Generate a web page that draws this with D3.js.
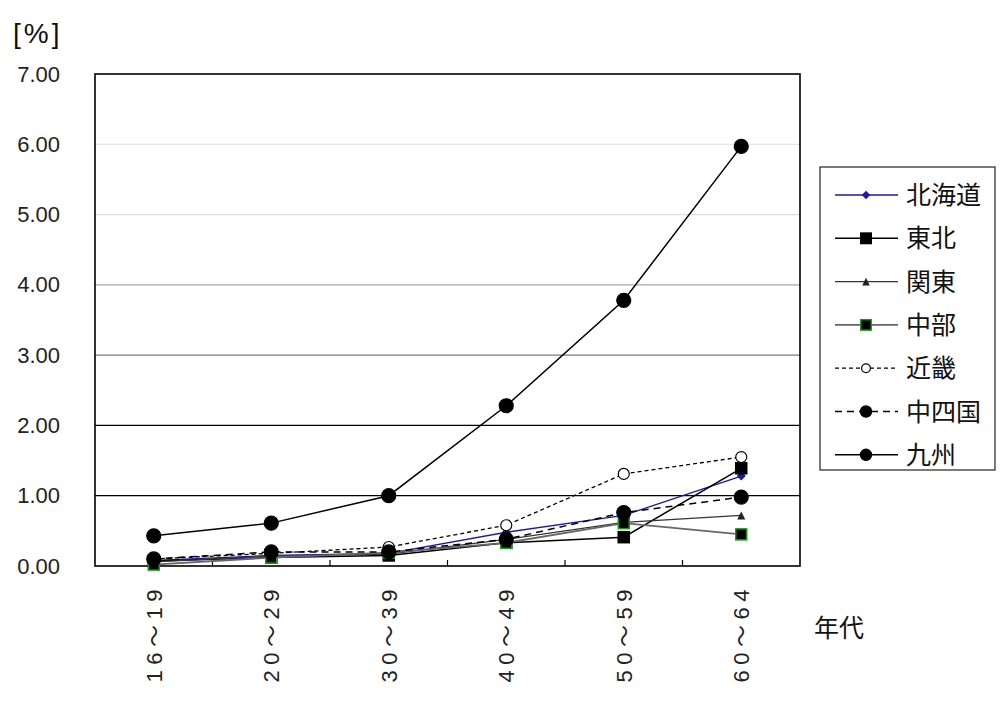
<!DOCTYPE html>
<html><head><meta charset="utf-8">
<script src="https://cdn.jsdelivr.net/npm/d3@7"></script>
<style>body{margin:0;background:#fff;}svg{display:block;}</style>
</head><body>
<svg id="c" width="1003" height="702"></svg>
<script>
const categories = ["16～19","20～29","30～39","40～49","50～59","60～64"];
const seriesNames = ["北海道","東北","関東","中部","近畿","中四国","九州"];
const hokkaido   = [0.08,0.15,0.18,0.48,0.72,1.28];
const tohoku     = [0.07,0.12,0.15,0.33,0.41,1.39];
const kanto      = [0.06,0.14,0.17,0.38,0.62,0.72];
const chubu      = [0.02,0.12,0.19,0.33,0.61,0.45];
const kinki      = [0.10,0.18,0.27,0.58,1.31,1.55];
const chushikoku = [0.10,0.20,0.20,0.38,0.76,0.98];
const kyushu     = [0.43,0.61,1.00,2.28,3.78,5.97];
const yTicks = [0,1,2,3,4,5,6,7];

const seriesData = [hokkaido,tohoku,kanto,chubu,kinki,chushikoku,kyushu];
const styles = [
  {stroke:"#1a1aa6", w:1.3, dash:null, marker:"diamond", fill:"#1a1aa6", mstroke:"#1a1aa6", size:9},
  {stroke:"#000", w:1.5, dash:null, marker:"square", fill:"#000", mstroke:"#000", size:11},
  {stroke:"#333", w:1.2, dash:null, marker:"triangle", fill:"#222", mstroke:"#222", size:8},
  {stroke:"#666", w:1.8, dash:null, marker:"square", fill:"#000", mstroke:"#1a9a1a", size:11},
  {stroke:"#000", w:1.3, dash:"4,3", marker:"circle", fill:"#fff", mstroke:"#000", size:5.5},
  {stroke:"#000", w:1.5, dash:"7,5", marker:"circle", fill:"#000", mstroke:"#000", size:7},
  {stroke:"#000", w:1.5, dash:null, marker:"circle", fill:"#000", mstroke:"#000", size:7}
];

const svg = d3.select("#c");
const L=95, R=800, T=74, B=566;
const x = d3.scaleBand().domain(categories).range([L,R]);
const y = d3.scaleLinear().domain([0,7]).range([B,T]);
const font = "'Liberation Sans', Arial, sans-serif";
const cjk = "'Noto Sans CJK JP', sans-serif";

// gridlines
const gridColor = v => ({1:"#000",2:"#000",3:"#7a7a7a",4:"#aaa",5:"#ddd",6:"#e4e4e4"})[v];
svg.append("g").selectAll("line").data(yTicks.filter(v=>v>0&&v<7)).join("line")
  .attr("x1",L).attr("x2",R).attr("y1",d=>y(d)).attr("y2",d=>y(d))
  .attr("stroke",d=>gridColor(d)).attr("stroke-width",1.3);

// y axis
const yAxis = svg.append("g").attr("transform",`translate(${L},0)`)
  .call(d3.axisLeft(y).tickValues(yTicks).tickFormat(d3.format(".2f")).tickSize(0).tickPadding(35));
yAxis.select(".domain").remove();
yAxis.selectAll("text").attr("font-family",font).attr("font-size",22).attr("fill","#222");

// x axis ticks (inside, at band boundaries)
const bounds = categories.slice(1).map(c=>x(c));
svg.append("g").selectAll("line").data(bounds).join("line")
  .attr("x1",d=>d).attr("x2",d=>d).attr("y1",B).attr("y2",B-6).attr("stroke","#000").attr("stroke-width",1.2);

const xAxis = svg.append("g").attr("transform",`translate(0,${B})`)
  .call(d3.axisBottom(x).tickSize(0).tickPadding(0));
xAxis.select(".domain").remove();
xAxis.selectAll("text")
  .attr("transform","translate(0,18) rotate(-90)")
  .attr("text-anchor","end").attr("dy","0.36em").attr("x",0).attr("y",0)
  .attr("font-family",font).attr("font-size",22).attr("letter-spacing",5.5).attr("fill","#222")
  .each(function(d){
    const t = d3.select(this); t.text(null);
    const parts = d.split("～");
    t.append("tspan").text(parts[0]);
    t.append("tspan").attr("font-family",cjk).text("～");
    t.append("tspan").text(parts[1]);
  });

// plot border
svg.append("rect").attr("x",L).attr("y",T).attr("width",R-L).attr("height",B-T)
  .attr("fill","none").attr("stroke","#000").attr("stroke-width",1.6);

function drawMarker(g, type, cx, cy, s, st){
  if(type==="circle"){
    g.append("circle").attr("cx",cx).attr("cy",cy).attr("r",s).attr("fill",st.fill).attr("stroke",st.mstroke).attr("stroke-width",1.2);
  } else if(type==="square"){
    g.append("rect").attr("x",cx-s/2).attr("y",cy-s/2).attr("width",s).attr("height",s).attr("fill",st.fill).attr("stroke",st.mstroke).attr("stroke-width",1.5);
  } else if(type==="diamond"){
    g.append("path").attr("d",`M${cx},${cy-s/2}L${cx+s/2},${cy}L${cx},${cy+s/2}L${cx-s/2},${cy}Z`).attr("fill",st.fill);
  } else if(type==="triangle"){
    g.append("path").attr("d",`M${cx},${cy-s/2}L${cx+s/2},${cy+s/2}L${cx-s/2},${cy+s/2}Z`).attr("fill",st.fill);
  }
}

const cx = c => x(c)+x.bandwidth()/2;
const line = d3.line().x((d,i)=>cx(categories[i])).y(d=>y(d));
seriesData.forEach((data,si)=>{
  const st = styles[si];
  const g = svg.append("g");
  g.append("path").datum(data).attr("d",line).attr("fill","none")
    .attr("stroke",st.stroke).attr("stroke-width",st.w).attr("stroke-dasharray",st.dash);
  data.forEach((v,i)=>drawMarker(g, st.marker, cx(categories[i]), y(v), st.size, st));
});

// legend
const lg = svg.append("g");
lg.append("rect").attr("x",820).attr("y",167).attr("width",175).attr("height",303)
  .attr("fill","#fff").attr("stroke","#333").attr("stroke-width",1.3);
seriesNames.forEach((n,i)=>{
  const st = styles[i];
  const ly = 195 + i*43.3;
  lg.append("line").attr("x1",835).attr("x2",898).attr("y1",ly).attr("y2",ly)
    .attr("stroke",st.stroke).attr("stroke-width",st.w).attr("stroke-dasharray",st.dash);
  drawMarker(lg, st.marker, 866, ly, st.marker==="circle"? st.size*0.8 : st.size*0.95, st);
  lg.append("text").attr("x",906).attr("y",ly).attr("dy","0.36em").text(n)
    .attr("font-family",cjk).attr("font-size",25).attr("fill","#111");
});

// titles
svg.append("text").attr("x",13).attr("y",43).text("[%]").attr("font-family",font).attr("font-size",28)
  .attr("letter-spacing",3).attr("fill","#111");
svg.append("text").attr("x",814).attr("y",628).attr("dy","0.36em").text("年代").attr("font-family",cjk).attr("font-size",25).attr("fill","#111");
</script>
</body></html>
